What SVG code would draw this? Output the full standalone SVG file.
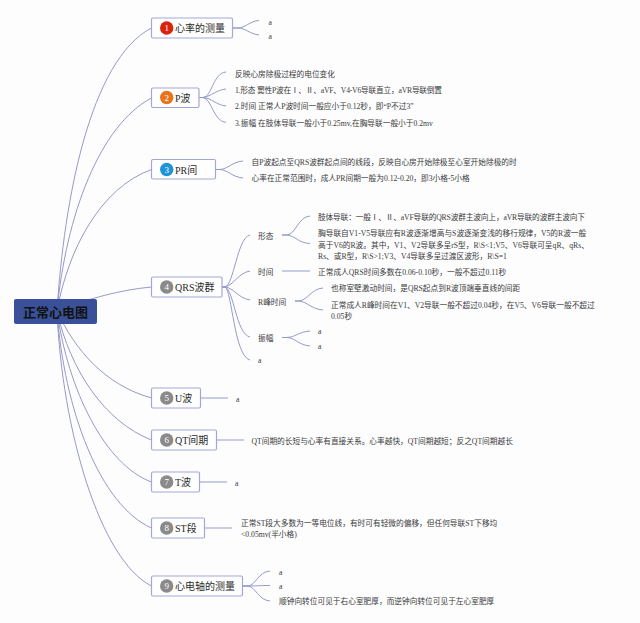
<svg xmlns="http://www.w3.org/2000/svg" width="640" height="623" viewBox="0 0 640 623">
<style>
text{font-family:"Liberation Serif","Noto Sans CJK SC",serif}
.c{fill:none;stroke:#959ac9;stroke-width:1}
.n{fill:#fefefe;stroke:#a3a7d6;stroke-width:1.2}
.l{font-size:10px;fill:#2b2b2b}
.d{font-size:7.700px;fill:#3a3a3a}
.m{font-size:9px;fill:#fff;text-anchor:middle}
</style>
<rect width="640" height="623" fill="#fdfdfe"/>
<g id="connectors">
<path class="c" d="M57 311C64 200 90 60 151.500 28"/>
<path class="c" d="M57 311C66 215 100 125 151.500 98"/>
<path class="c" d="M57 311C68 250 100 188 151.500 169.500"/>
<path class="c" d="M57 311C90 298 120 290 151.500 287"/>
<path class="c" d="M57 311C75 350 105 385 151.500 398"/>
<path class="c" d="M57 311C70 370 105 422 151.500 440"/>
<path class="c" d="M57 311C68 390 105 465 151.500 482"/>
<path class="c" d="M57 311C64 410 100 505 151.500 528"/>
<path class="c" d="M57 311C62 430 100 560 151.500 586"/>
<path class="c" d="M233 28H238C245 28 250 21 259 20.500M233 28H238C245 28 250 34 259 35"/>
<path class="c" d="M199 97.500H203C212 97 213 73 226 72M199 97.500H203C212 96 216 90 226 89M199 97.500H203C212 98 216 105 226 106M199 97.500H203C212 99 213 121 226 122.500"/>
<path class="c" d="M215.500 169.500H220C228 169 232 162 243 161M215.500 169.500H220C228 170 232 177 243 178"/>
<path class="c" d="M222 287H225C234 285 237 238 250 235M222 287H225C234 285 238 273 250 271M222 287H225C234 288 238 298 250 300M222 287H225C234 290 236 334 250 337M222 287H225C232 290 234 356 250 360"/>
<path class="c" d="M282 235H287C296 234 298 217 310 216M282 235H287C296 236 298 243 310 243.500M282 271H310M295 301H299C308 300 311 289 323 288M295 301H299C308 302 311 309 323 310M282 337.500H287C296 337 298 332 310 331M282 337.500H287C296 338 298 345 310 346"/>
<path class="c" d="M200.500 398H228M216.500 440H244M199.500 482H227M204.700 528H232"/>
<path class="c" d="M243 586H248C256 585 258 572 270 571M243 586H248C256 586 258 585.500 270 585.500M243 586H248C256 587 258 600 270 601"/>
</g>
<g id="root"><rect x="14" y="299" width="83" height="25" rx="2" fill="#3a5199"/><text x="55.500" y="316.500" font-size="13" font-weight="700" fill="#111" text-anchor="middle">正常心电图</text></g>
<g id="node1"><rect class="n" x="151.500" y="18" width="81" height="20" rx="1.500"/><circle cx="166.700" cy="28" r="6.700" fill="#d9230f"/><text class="m" x="166.700" y="31">1</text><text class="l" x="175" y="32">心率的测量</text></g>
<g id="node2"><rect class="n" x="151.500" y="88" width="47.500" height="19.500" rx="1.500"/><circle cx="166.700" cy="97.500" r="6.700" fill="#e8741e"/><text class="m" x="166.700" y="100.500">2</text><text class="l" x="175" y="101.500">P波</text></g>
<g id="node3"><rect class="n" x="151.500" y="159.500" width="64" height="19.500" rx="1.500"/><circle cx="166.700" cy="169.500" r="6.700" fill="#1f93d8"/><text class="m" x="166.700" y="172.500">3</text><text class="l" x="175" y="173.500">PR间</text></g>
<g id="node4"><rect class="n" x="151.500" y="277" width="70.500" height="20" rx="1.500"/><circle cx="166.700" cy="287" r="6.700" fill="#8a8a8a"/><text class="m" x="166.700" y="290">4</text><text class="l" x="175" y="291">QRS波群</text></g>
<g id="node5"><rect class="n" x="151.500" y="388" width="49" height="20" rx="1.500"/><circle cx="166.700" cy="398" r="6.700" fill="#8a8a8a"/><text class="m" x="166.700" y="401">5</text><text class="l" x="175" y="402">U波</text></g>
<g id="node6"><rect class="n" x="151.500" y="430" width="65" height="20" rx="1.500"/><circle cx="166.700" cy="440" r="6.700" fill="#8a8a8a"/><text class="m" x="166.700" y="443">6</text><text class="l" x="175" y="444">QT间期</text></g>
<g id="node7"><rect class="n" x="151.500" y="472" width="48" height="20" rx="1.500"/><circle cx="166.700" cy="482" r="6.700" fill="#8a8a8a"/><text class="m" x="166.700" y="485">7</text><text class="l" x="175" y="486">T波</text></g>
<g id="node8"><rect class="n" x="151.500" y="518" width="53" height="20" rx="1.500"/><circle cx="166.700" cy="528" r="6.700" fill="#8a8a8a"/><text class="m" x="166.700" y="531">8</text><text class="l" x="175" y="532">ST段</text></g>
<g id="node9"><rect class="n" x="151.500" y="576" width="91" height="20" rx="1.500"/><circle cx="166.700" cy="586" r="6.700" fill="#8a8a8a"/><text class="m" x="166.700" y="589">9</text><text class="l" x="175" y="590">心电轴的测量</text></g>
<g id="details1"><text class="d" x="268.500" y="24.500">a</text><text class="d" x="268.500" y="38.500">a</text></g>
<g id="details2">
<text class="d" x="235" y="76.500">反映心房除极过程的电位变化</text>
<text class="d" x="235" y="92.500" textLength="207">1.形态 窦性P波在Ⅰ、Ⅱ、aVF、V4-V6导联直立，aVR导联倒置</text>
<text class="d" x="235" y="109">2.时间 正常人P波时间一般应小于0.12秒，即“P不过3”</text>
<text class="d" x="235" y="125.500">3.振幅 在肢体导联一般小于0.25mv,在胸导联一般小于0.2mv</text>
</g>
<g id="details3">
<text class="d" x="251.500" y="164.500">自P波起点至QRS波群起点间的线段，反映自心房开始除极至心室开始除极的时</text>
<text class="d" x="251.500" y="181">心率在正常范围时，成人PR间期一般为0.12-0.20，即3小格-5小格</text>
</g>
<g id="details4">
<text class="d" x="258" y="238.500">形态</text>
<text class="d" x="258" y="274.500">时间</text>
<text class="d" x="258" y="304.500">R峰时间</text>
<text class="d" x="258" y="341">振幅</text>
<text class="d" x="258" y="362.500">a</text>
<text class="d" x="318" y="219.500" textLength="267">肢体导联：一般Ⅰ、Ⅱ、aVF导联的QRS波群主波向上，aVR导联的波群主波向下</text>
<text class="d" x="318" y="236">胸导联自V1-V5导联应有R波逐渐增高与S波逐渐变浅的移行规律，V5的R波一般</text>
<text class="d" x="318" y="247.500">高于V6的R波。其中，V1、V2导联多呈rS型，R\S&lt;1;V5、V6导联可呈qR、qRs、</text>
<text class="d" x="318" y="258.500">Rs、或R型，R\S&gt;1;V3、V4导联多呈过渡区波形，R\S=1</text>
<text class="d" x="318" y="274.500">正常成人QRS时间多数在0.06-0.10秒，一般不超过0.11秒</text>
<text class="d" x="331" y="291">也称室壁激动时间，是QRS起点到R波顶端垂直线的间距</text>
<text class="d" x="331" y="307.500">正常成人R峰时间在V1、V2导联一般不超过0.04秒，在V5、V6导联一般不超过</text>
<text class="d" x="331" y="319">0.05秒</text>
<text class="d" x="318" y="334">a</text>
<text class="d" x="318" y="348.500">a</text>
</g>
<g id="details5to8">
<text class="d" x="236" y="401.500">a</text>
<text class="d" x="251.500" y="443.500">QT间期的长短与心率有直接关系。心率越快，QT间期越短；反之QT间期越长</text>
<text class="d" x="235" y="485.500">a</text>
<text class="d" x="241" y="526">正常ST段大多数为一等电位线，有时可有轻微的偏移，但任何导联ST下移均</text>
<text class="d" x="241" y="537">&lt;0.05mv(半小格)</text>
</g>
<g id="details9">
<text class="d" x="279" y="574.500">a</text>
<text class="d" x="279" y="589">a</text>
<text class="d" x="279" y="604">顺钟向转位可见于右心室肥厚，而逆钟向转位可见于左心室肥厚</text>
</g>
</svg>
